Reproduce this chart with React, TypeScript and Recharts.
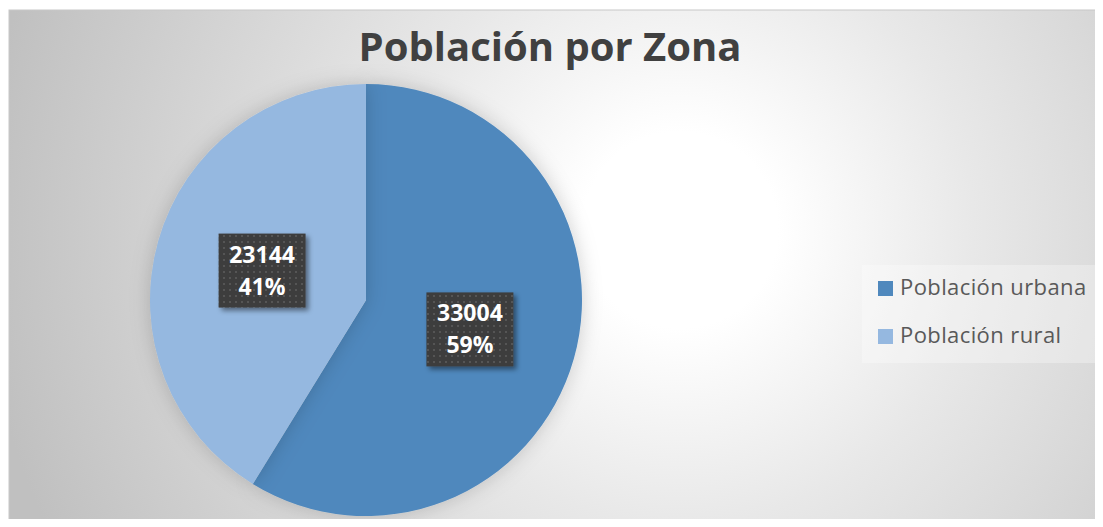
import React from 'react';
import { PieChart, Pie, Cell, Legend } from 'recharts';

const zonas = ['Población urbana', 'Población rural'];
const poblacion = [33004, 23144];
const colores = ['#4F88BD', '#95B8E0'];
const titulo = 'Población por Zona';

const data = zonas.map((name, i) => ({ name, value: poblacion[i] }));

const RAD = Math.PI / 180;

function DataLabel(props: any) {
  const { cx, cy, midAngle, outerRadius, value, percent } = props;
  const r = outerRadius * 0.5;
  const x = cx + r * Math.cos(-midAngle * RAD);
  const y = cy + r * Math.sin(-midAngle * RAD);
  const w = 87;
  const h = 74;
  return (
    <g>
      <rect x={x - w / 2} y={y - h / 2} width={w} height={h} fill="url(#dots)" filter="url(#boxShadow)" />
      <text x={x} y={y - 8} textAnchor="middle" fill="#fff" fontFamily="'Open Sans', sans-serif" fontWeight={700} fontSize={23}>
        {value}
      </text>
      <text x={x} y={y + 24} textAnchor="middle" fill="#fff" fontFamily="'Open Sans', sans-serif" fontWeight={700} fontSize={23}>
        {`${Math.round(percent * 100)}%`}
      </text>
    </g>
  );
}

function LegendBox({ payload }: any) {
  const items = [...(payload || [])].sort(
    (a: any, b: any) => zonas.indexOf(a.value) - zonas.indexOf(b.value)
  );
  return (
    <svg width={238} height={98} style={{ display: 'block' }}>
      <rect x={0} y={0} width={238} height={98} fill="#ffffff" fillOpacity={0.3} />
      {items.map((p: any, i: number) => (
        <g key={p.value}>
          <rect x={16} y={16 + i * 48} width={15} height={15} fill={p.color} />
          <text
            x={38}
            y={30 + i * 48}
            fill="#595959"
            fontFamily="'Open Sans', sans-serif"
            fontSize={22}
            letterSpacing={0.4}
          >
            {p.value}
          </text>
        </g>
      ))}
    </svg>
  );
}

export default function App() {
  return (
    <div style={{ position: 'relative', width: 1103, height: 527, margin: -8 }}>
      <style>{`.recharts-pie-sector { filter: url(#pieGlow); }`}</style>
      <svg width={1103} height={527} style={{ position: 'absolute', left: 0, top: 0 }}>
        <defs>
          <radialGradient id="bg" gradientUnits="userSpaceOnUse" cx={680} cy={230} r={700}>
            <stop offset="0" stopColor="#ffffff" />
            <stop offset="0.14" stopColor="#ffffff" />
            <stop offset="0.42" stopColor="#e8e8e8" />
            <stop offset="1" stopColor="#c0c0c0" />
          </radialGradient>
        </defs>
        <rect x={9} y={10} width={1092} height={515} fill="url(#bg)" stroke="#c8c8c8" strokeWidth={1} />
        <text
          x={550}
          y={61}
          textAnchor="middle"
          fill="#404040"
          fontFamily="'Open Sans', sans-serif"
          fontWeight={700}
          fontSize={40}
        >
          {titulo}
        </text>
      </svg>
      <PieChart
        width={1103}
        height={527}
        margin={{ top: 0, right: 0, bottom: 0, left: 0 }}
        style={{ position: 'absolute', left: 0, top: 0 }}
      >
        <defs>
          <pattern id="dots" width={6} height={6} patternUnits="userSpaceOnUse">
            <rect width={6} height={6} fill="#3e3e3e" />
            <rect x={1} y={1} width={2} height={2} fill="#555555" />
          </pattern>
          <filter id="boxShadow" x="-20%" y="-20%" width="150%" height="150%">
            <feDropShadow dx={3} dy={3} stdDeviation={2.5} floodColor="#000" floodOpacity={0.45} />
          </filter>
          <filter id="pieGlow" x="-20%" y="-20%" width="140%" height="140%">
            <feDropShadow dx={0} dy={0} stdDeviation={10} floodColor="#000" floodOpacity={0.18} />
          </filter>
        </defs>
        <Pie
          data={data}
          dataKey="value"
          nameKey="name"
          cx={366}
          cy={300}
          outerRadius={216}
          startAngle={90}
          endAngle={-270}
          stroke="none"
          label={DataLabel}
          labelLine={false}
          isAnimationActive={false}
        >
          {data.map((d, i) => (
            <Cell key={d.name} fill={colores[i]} />
          ))}
        </Pie>
        <Legend
          content={<LegendBox />}
          wrapperStyle={{ position: 'absolute', left: 862, top: 265, width: 238, height: 98 }}
        />
      </PieChart>
    </div>
  );
}
